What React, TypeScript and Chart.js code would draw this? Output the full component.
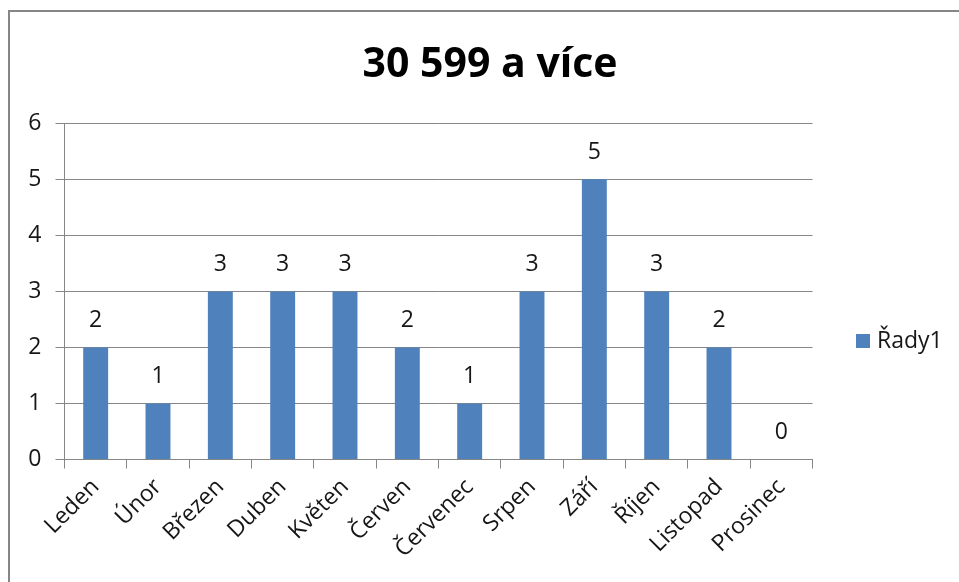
import React, { useEffect, useRef } from "react";
import { Chart, registerables } from "chart.js";

Chart.register(...registerables);

const TITLE = "30 599 a více";
const SERIES_NAME = "Řady1";
const MONTHS = ["Leden", "Únor", "Březen", "Duben", "Květen", "Červen", "Červenec", "Srpen", "Září", "Říjen", "Listopad", "Prosinec"];
const VALUES = [2, 1, 3, 3, 3, 2, 1, 3, 5, 3, 2, 0];
const Y_MIN = 0;
const Y_MAX = 6;
const Y_STEP = 1;

const BAR_COLOR = "#4F81BD";
const GRID_COLOR = "#868686";
const TEXT_COLOR = "#161616";
const FONT = "'Open Sans', 'DejaVu Sans', sans-serif";

const W = 949;
const H = 570;

export default function App() {
  const ref = useRef<HTMLCanvasElement | null>(null);

  useEffect(() => {
    const canvas = ref.current;
    if (!canvas) return;

    const overlay = {
      id: "overlay",
      afterDatasetsDraw(chart: any) {
        const ctx = chart.ctx;
        ctx.save();
        // data labels
        ctx.fillStyle = TEXT_COLOR;
        ctx.font = `23px ${FONT}`;
        ctx.textAlign = "center";
        ctx.textBaseline = "middle";
        const meta = chart.getDatasetMeta(0);
        meta.data.forEach((bar: any, i: number) => {
          ctx.fillText(String(VALUES[i]), bar.x, bar.y - 27);
        });
        // title
        ctx.fillStyle = "#000";
        ctx.font = `bold 41px ${FONT}`;
        ctx.textAlign = "center";
        ctx.textBaseline = "alphabetic";
        ctx.fillText(TITLE, 480, 65);
        // legend
        ctx.fillStyle = BAR_COLOR;
        ctx.fillRect(846, 322, 14, 14);
        ctx.fillStyle = TEXT_COLOR;
        ctx.font = `23px ${FONT}`;
        ctx.textAlign = "left";
        ctx.textBaseline = "middle";
        ctx.fillText(SERIES_NAME, 867, 329);
        ctx.restore();
      },
    };

    const chart = new Chart(canvas, {
      type: "bar",
      data: {
        labels: MONTHS,
        datasets: [
          {
            label: SERIES_NAME,
            data: VALUES,
            backgroundColor: BAR_COLOR,
            borderWidth: 0,
            barPercentage: 0.4,
            categoryPercentage: 1,
          },
        ],
      },
      options: {
        responsive: false,
        animation: false,
        devicePixelRatio: 1,
        layout: { padding: { left: 0, top: 111.3, right: 146.5, bottom: 0 } },
        plugins: {
          legend: { display: false },
          title: { display: false },
          tooltip: { enabled: false },
        },
        scales: {
          x: {
            offset: true,
            grid: {
              display: true,
              offset: true,
              drawOnChartArea: false,
              drawTicks: true,
              tickLength: 9,
              color: GRID_COLOR,
              lineWidth: 1,
            },
            border: { display: true, color: GRID_COLOR, width: 1 },
            ticks: {
              color: TEXT_COLOR,
              font: { family: FONT, size: 23 },
              minRotation: 45,
              maxRotation: 45,
              autoSkip: false,
              padding: 5,
            },
            afterFit: (scale: any) => {
              scale.height = 122.5;
            },
          },
          y: {
            min: Y_MIN,
            max: Y_MAX,
            grid: {
              color: GRID_COLOR,
              lineWidth: 1,
              drawTicks: true,
              tickLength: 9,
            },
            border: { display: true, color: GRID_COLOR, width: 1 },
            ticks: {
              stepSize: Y_STEP,
              color: TEXT_COLOR,
              font: { family: FONT, size: 23 },
              padding: 14,
            },
            afterFit: (scale: any) => {
              scale.width = 54.5;
            },
          },
        },
      },
      plugins: [overlay],
    });

    return () => chart.destroy();
  }, []);

  return (
    <div
      style={{
        position: "fixed",
        left: 8,
        top: 10,
        width: 951,
        height: 572,
        borderTop: `2px solid ${GRID_COLOR}`,
        borderLeft: `2px solid ${GRID_COLOR}`,
        background: "#fff",
        boxSizing: "border-box",
        overflow: "hidden",
      }}
    >
      <canvas ref={ref} width={W} height={H} style={{ display: "block", width: W, height: H }} />
    </div>
  );
}
